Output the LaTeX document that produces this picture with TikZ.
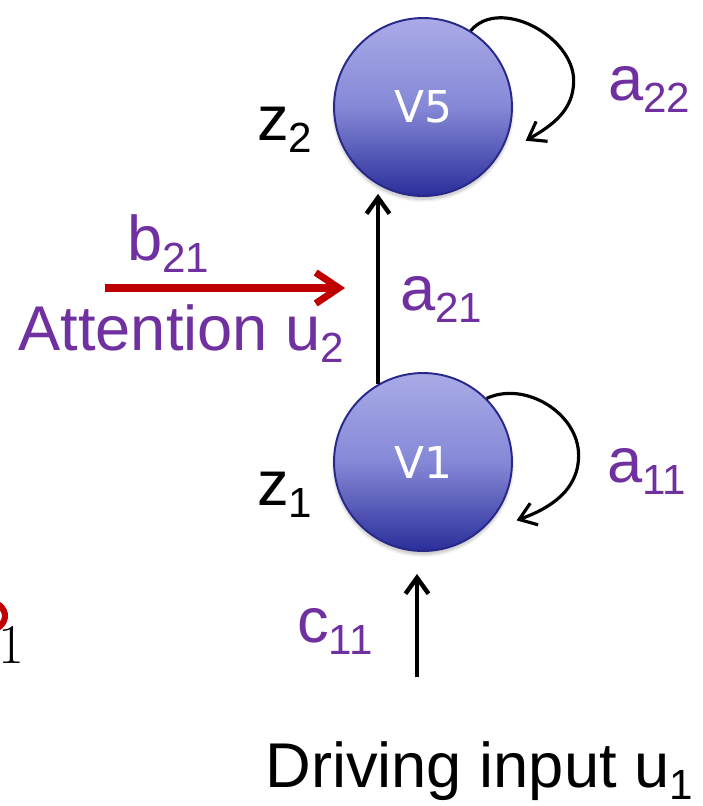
\documentclass[tikz,border=0pt]{standalone}
\usepackage{fontspec}
\newfontfamily\arialfont{Liberation Sans}
\newfontfamily\verdfont{DejaVu Sans}
\usetikzlibrary{arrows.meta,shadows.blur}
\definecolor{lblpurple}{HTML}{7030A0}
\definecolor{attnred}{HTML}{C00000}
\definecolor{nodetop}{HTML}{A9ABE7}
\definecolor{nodemid}{HTML}{8588D6}
\definecolor{nodebot}{HTML}{2B2E9A}
\definecolor{nodeedge}{HTML}{28288A}
\newcommand{\lsub}[1]{\raisebox{-0.19em}{\fontsize{24}{24}\selectfont #1}}
\tikzset{
  region/.style={circle, minimum size=3.56cm, inner sep=0pt, draw=nodeedge,
    line width=1.1pt, top color=nodetop, bottom color=nodebot, middle color=nodemid,
    text=white, font=\verdfont\fontsize{25}{25}\selectfont,
    blur shadow={shadow xshift=0pt, shadow yshift=-2pt, shadow opacity=25, shadow blur steps=8}},
  lbl/.style={font=\arialfont\fontsize{36}{40}\selectfont, inner sep=0pt, anchor=base west},
  parm/.style={lbl, text=lblpurple},
  conn/.style={line width=2.5pt, -{Straight Barb[length=0.32cm,width=0.46cm]}},
  selfloop/.style={line width=1.8pt, -{Straight Barb[length=0.32cm,width=0.46cm]}},
}
\begin{document}
\begin{tikzpicture}[x=0.02cm,y=0.02cm]
  \useasboundingbox (0,0) rectangle (703,-806);
  % regions
  \node[region] (V5) at (423,-107) {V5};
  \node[region] (V1) at (423,-462) {V1};
  % connections
  \draw[conn, shorten >=0.18cm] (V1.120) -- (V5.240);
  \draw[selfloop] (V5.58) to[out=50,in=90] ++(103,-50) to[out=-90,in=30] ++(-48,-60);
  \draw[selfloop] (V1.45) to[out=25,in=90] ++(92,-57) to[out=-90,in=20] ++(-62,-65);
  % driving input
  \coordinate (drvbase) at (417,-677);
  \draw[conn, shorten >=0.44cm] (drvbase) -- (drvbase |- V1.south);
  % attention
  \coordinate (attnstart) at (105,-288);
  \coordinate (attnend) at (345,-288);
  \draw[attnred, line width=4pt, -{Straight Barb[length=0.46cm,width=0.62cm]}] (attnstart) -- (attnend);
  % labels
  \node[parm] (a22) at (608,-100) {a\lsub{22}};
  \node[parm] (a21) at (400,-310) {a\lsub{21}};
  \node[parm] (a11) at (607,-482) {a\lsub{11}};
  \node[parm] (c11) at (297,-642) {c\lsub{11}};
  \node[parm] (b21) at (127,-260) {b\lsub{21}};
  \node[parm] (attn) at (18,-350) {Attention u\lsub{2}};
  \node[lbl] (z2) at (257,-140) {z\lsub{2}};
  \node[lbl] (z1) at (257,-505) {z\lsub{1}};
  \node[lbl] (drv) at (265,-787) {Driving input u\lsub{1}};
  % cut-off pieces at the left edge
  \begin{scope}
    \clip (0,0) rectangle (703,-806);
    \draw[attnred, line width=3.5pt] (-7.5,-630.7) arc[start angle=-60, end angle=60, x radius=0.5cm, y radius=0.34cm];
    \node[anchor=base east, inner sep=0pt, font=\fontsize{32}{32}\selectfont] (cutone) at (25,-663) {1};
  \end{scope}
\end{tikzpicture}
\end{document}
